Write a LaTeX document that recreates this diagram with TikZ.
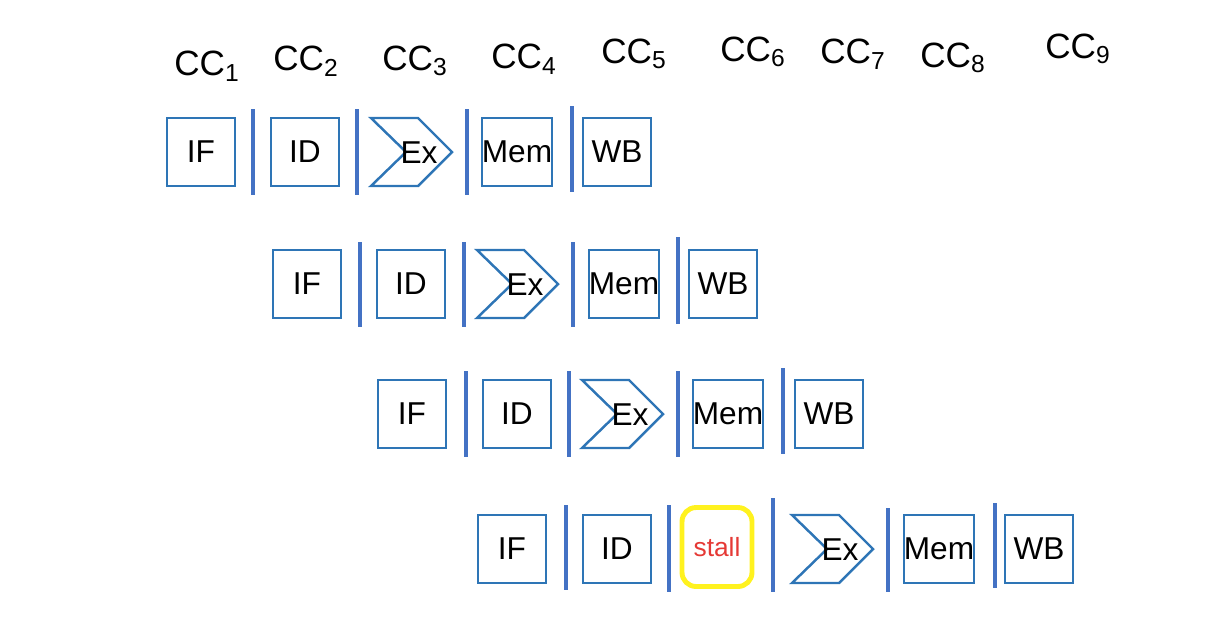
\documentclass[tikz,border=0pt]{standalone}
\usepackage{fontspec}
\setmainfont{Liberation Sans}
\usetikzlibrary{positioning}
\definecolor{StageBlue}{HTML}{2E75B6}
\definecolor{LatchBlue}{HTML}{4472C4}
\definecolor{StallYellow}{HTML}{FFF21F}
\definecolor{StallRed}{HTML}{E53935}
\tikzset{
  every node/.style={text=black},
  stagebox/.style={draw=StageBlue, line width=1.4pt, minimum width=1.36cm, minimum height=1.36cm, inner sep=0pt, font=\fontsize{18}{20}\selectfont},
  exlabel/.style={inner sep=0pt, font=\fontsize{18}{20}\selectfont},
  chevron/.style={draw=StageBlue, line width=1.4pt, line join=miter},
  latch/.style={draw=LatchBlue, line width=2.8pt},
  stallbox/.style={draw=StallYellow, line width=2.8pt, rounded corners=8pt, minimum width=1.4cm, minimum height=1.58cm, inner sep=0pt, text=StallRed, font=\fontsize{15}{17}\selectfont},
  cyclelabel/.style={font=\fontsize{20}{24}\selectfont},
}
\begin{document}
\begin{tikzpicture}[x=0.02cm,y=-0.02cm]
  \useasboundingbox (0,0) rectangle (1222,636);
  % clock cycles across the top
  \foreach \n/\x/\y in {1/207/66,2/306/61,3/415/61,4/524/59,5/634/54,6/753/52,7/853/54,8/953/58,9/1078/49} {
    \node[cyclelabel] (cc\n) at (\x,\y) {CC\textsubscript{\n}};
  }
  % square stages: row / top / IF / ID / Mem / WB left edges
  \foreach \r/\t/\a/\b/\c/\d in {1/118/167/271/483/583, 2/250/273/377/590/689, 3/380/378/483/694/795, 4/515/478/583/905/1005} {
    \node[stagebox] (if\r) at (\a+34,\t+34) {IF};
    \node[stagebox] (id\r) at (\b+34,\t+34) {ID};
    \node[stagebox] (mem\r) at (\c+34,\t+34) {Mem};
    \node[stagebox] (wb\r) at (\d+34,\t+34) {WB};
  }
  % execute stages drawn as chevrons
  \foreach \r/\l/\t in {1/371/118, 2/477/250, 3/582/380, 4/792/515} {
    \draw[chevron] (\l,\t) -- (\l+47,\t) -- (\l+81,\t+34) -- (\l+47,\t+68)
      -- (\l,\t+68) -- (\l+35,\t+34) -- cycle;
    \node[exlabel] (ex\r) at (\l+48,\t+35) {Ex};
  }
  % bubble in the last row
  \node[stallbox] (stall4) at (717,547) {stall};
  % pipeline registers between stages
  \foreach \x/\a/\b in {253/109/195, 357/109/195, 467/109/195, 572/106/192,
                        360/242/327, 464/242/327, 573/242/327, 678/237/324,
                        466/371/457, 569/371/457, 678/371/457, 783/368/454,
                        566/505/590, 669/505/592, 773/498/592, 888/508/592, 995/503/588} {
    \draw[latch] (\x,\a) -- (\x,\b);
  }
\end{tikzpicture}
\end{document}
